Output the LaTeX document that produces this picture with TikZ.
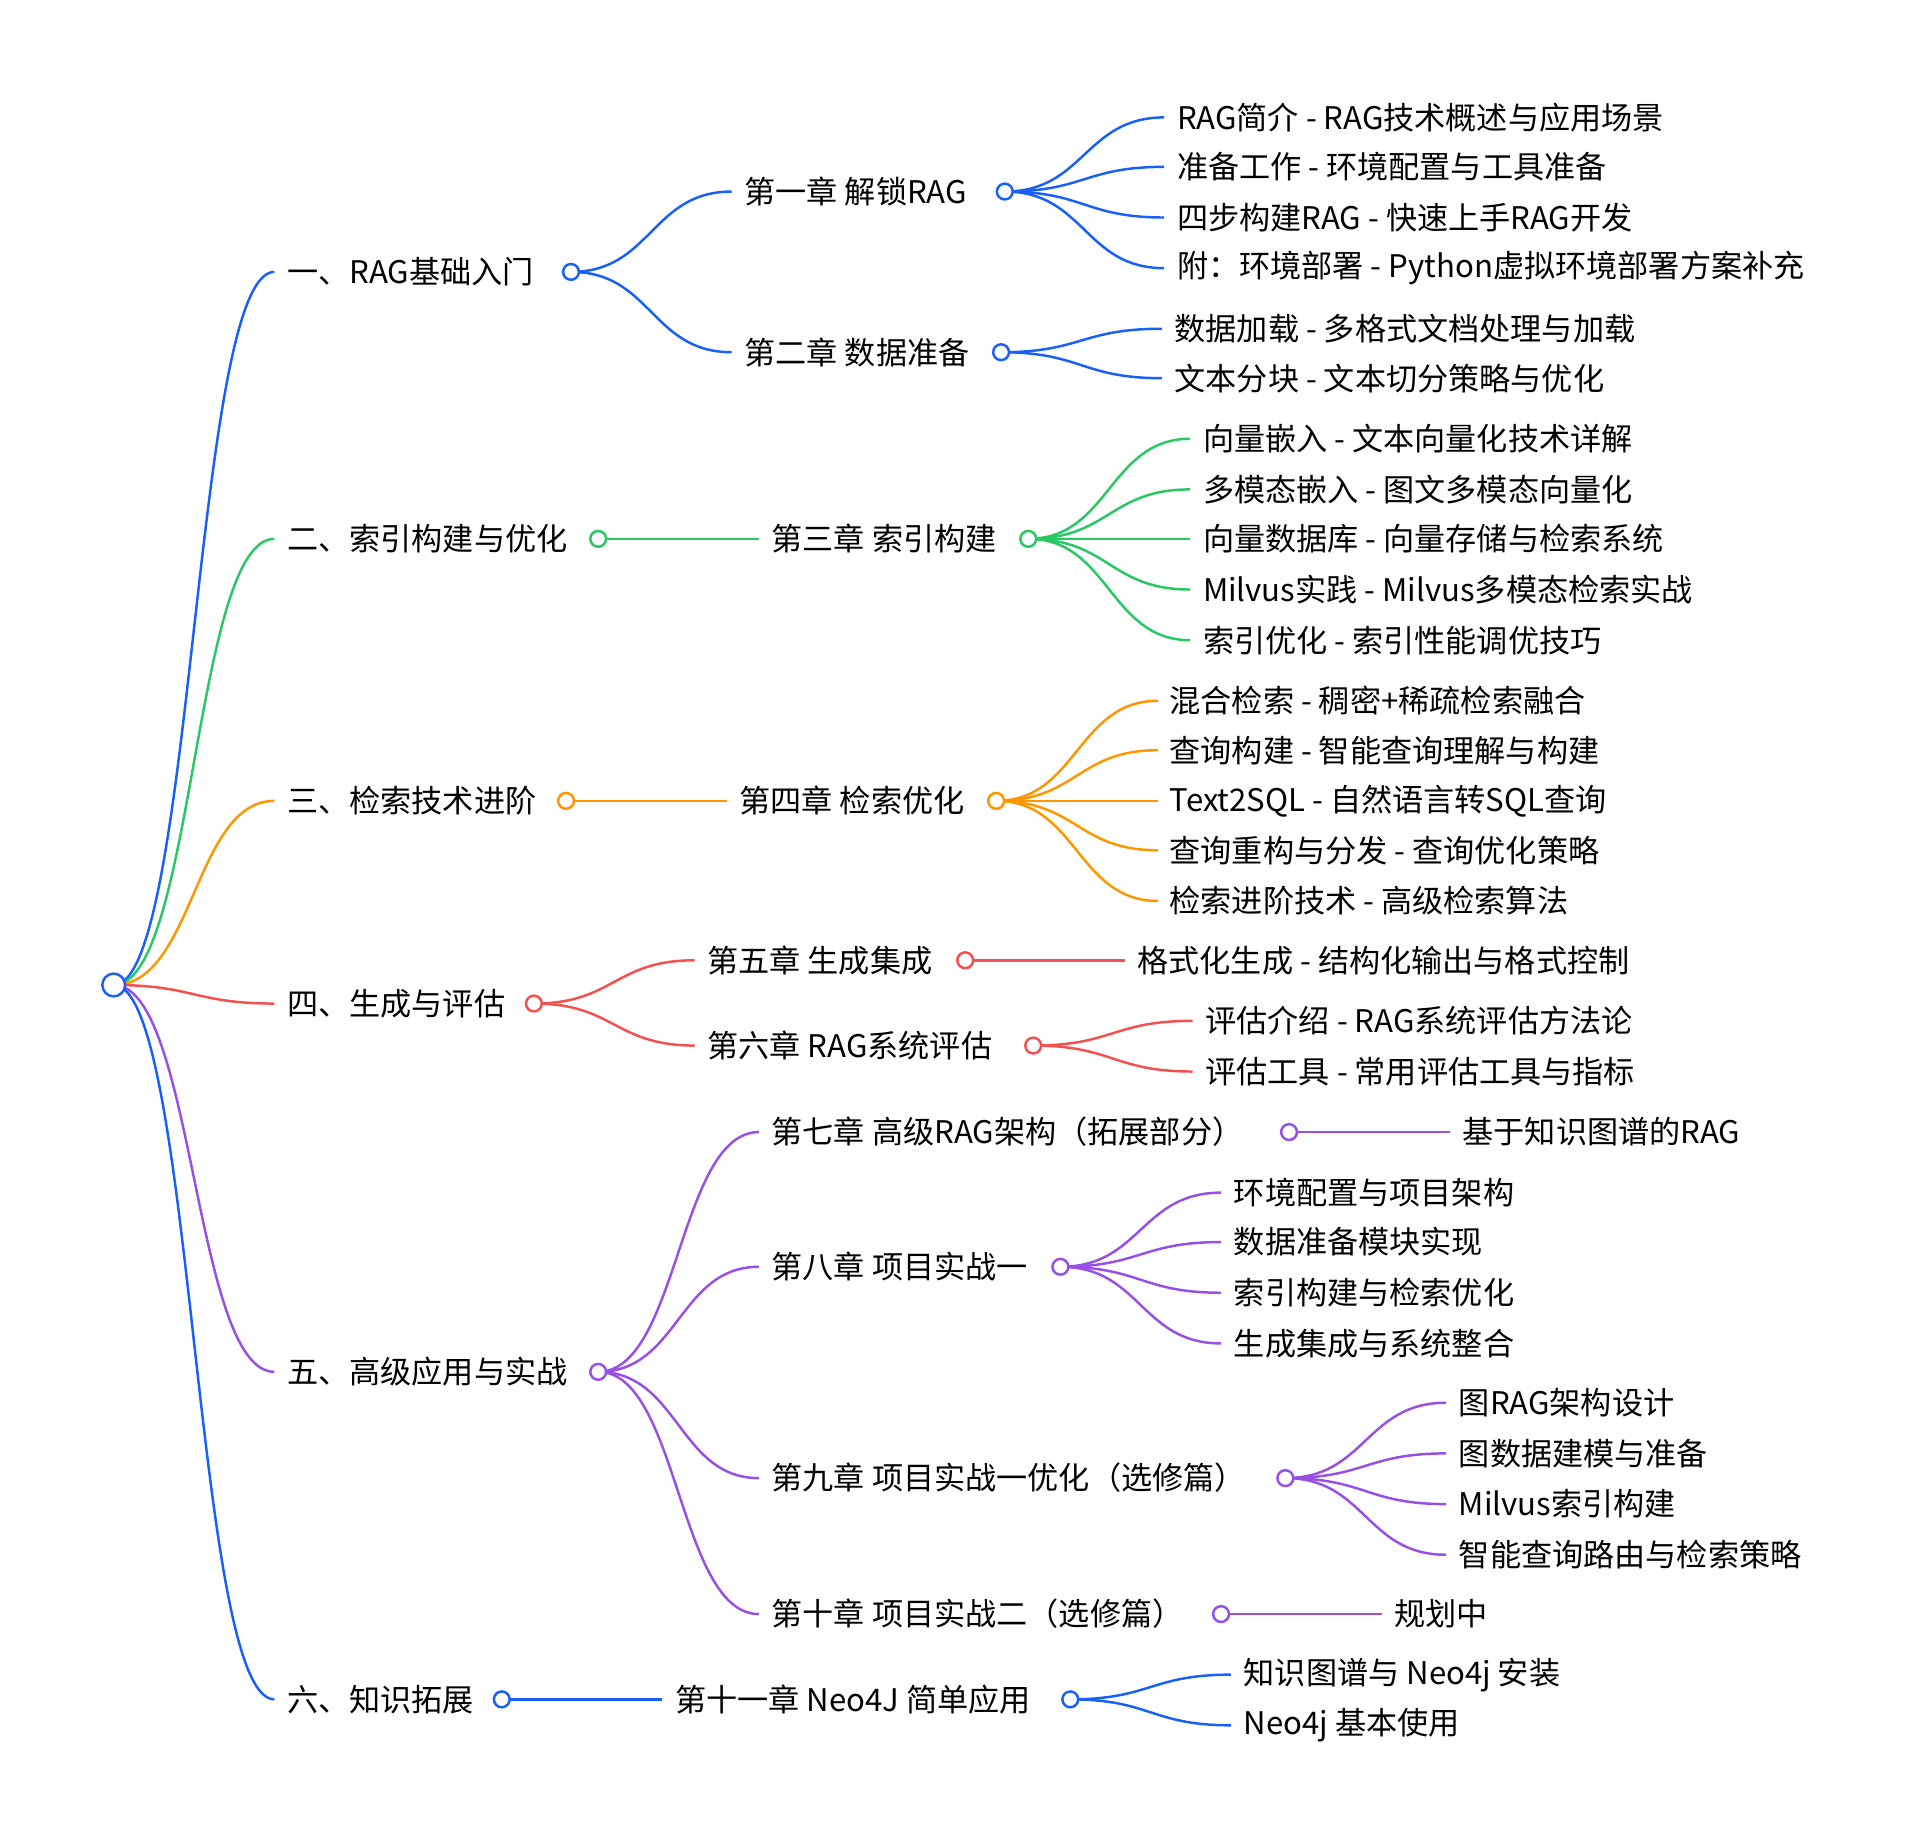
\documentclass[tikz,border=0pt]{standalone}
\usepackage{fontspec}
\setmainfont{Noto Sans CJK SC}
\definecolor{cb}{RGB}{25,95,250}
\definecolor{cg}{RGB}{40,200,100}
\definecolor{co}{RGB}{255,150,0}
\definecolor{cr}{RGB}{245,80,80}
\definecolor{cp}{RGB}{150,80,230}
\newcommand{\br}[5]{\draw[#5,line width=1pt] (#1,#2) .. controls ({(#1+#3)/2},#2) and ({(#1+#3)/2},#4) .. (#3,#4);}
\newcommand{\lbl}[3]{\node[anchor=west,inner sep=0pt,font=\fontsize{12.6pt}{14pt}\selectfont] at ({#1-3},#2) {#3};}
\newcommand{\dotc}[3]{\draw[#3,line width=1pt,fill=white] (#1,#2) circle (3.2pt);}
\begin{document}
\begin{tikzpicture}[x=0.5pt,y=-0.5pt]
\useasboundingbox (0,0) rectangle (1560,1482);
% root -> L1
\br{92}{797}{222}{220}{cb}
\br{92}{797}{222}{436}{cg}
\br{92}{797}{222}{648}{co}
\br{92}{797}{222}{812}{cr}
\br{92}{797}{222}{1110}{cp}
\br{92}{797}{222}{1375}{cb}
% L1 -> L2
\br{462}{220}{592}{155}{cb}
\br{462}{220}{592}{285}{cb}
\br{484}{436}{614}{436}{cg}
\br{458}{648}{588}{648}{co}
\br{432}{812}{562}{777}{cr}
\br{432}{812}{562}{846}{cr}
\br{484}{1110}{614}{916}{cp}
\br{484}{1110}{614}{1025}{cp}
\br{484}{1110}{614}{1196}{cp}
\br{484}{1110}{614}{1306}{cp}
\br{406}{1375}{536}{1375}{cb}
% L2 -> L3
\foreach \y in {95,135,176,217}{\br{813}{155}{942}{\y}{cb}}
\foreach \y in {266,306}{\br{810}{285}{940}{\y}{cb}}
\foreach \y in {355,396,436,477,518}{\br{832}{436}{963}{\y}{cg}}
\foreach \y in {567,607,648,688,729}{\br{806}{648}{937}{\y}{co}}
\br{781}{777}{910}{777}{cr}
\foreach \y in {826,867}{\br{836}{846}{965}{\y}{cr}}
\br{1043}{916}{1173}{916}{cp}
\foreach \y in {965,1005,1046,1087}{\br{858}{1025}{988}{\y}{cp}}
\foreach \y in {1135,1176,1217,1258}{\br{1040}{1196}{1170}{\y}{cp}}
\br{988}{1306}{1118}{1306}{cp}
\foreach \y in {1355,1396}{\br{866}{1375}{996}{\y}{cb}}
% circles
\draw[cb,line width=1pt,fill=white] (92,797) circle (4.6pt);
\dotc{462}{220}{cb}\dotc{484}{436}{cg}\dotc{458}{648}{co}\dotc{432}{812}{cr}\dotc{484}{1110}{cp}\dotc{406}{1375}{cb}
\dotc{813}{155}{cb}\dotc{810}{285}{cb}\dotc{832}{436}{cg}\dotc{806}{648}{co}\dotc{781}{777}{cr}\dotc{836}{846}{cr}
\dotc{1043}{916}{cp}\dotc{858}{1025}{cp}\dotc{1040}{1196}{cp}\dotc{988}{1306}{cp}\dotc{866}{1375}{cb}
% L1 labels
\lbl{235}{220}{一、RAG基础入门}
\lbl{235}{436}{二、索引构建与优化}
\lbl{235}{648}{三、检索技术进阶}
\lbl{235}{812}{四、生成与评估}
\lbl{235}{1110}{五、高级应用与实战}
\lbl{235}{1375}{六、知识拓展}
% L2 labels
\lbl{605}{155}{第一章 解锁RAG}
\lbl{605}{285}{第二章 数据准备}
\lbl{627}{436}{第三章 索引构建}
\lbl{601}{648}{第四章 检索优化}
\lbl{575}{777}{第五章 生成集成}
\lbl{575}{846}{第六章 RAG系统评估}
\lbl{627}{916}{第七章 高级RAG架构（拓展部分）}
\lbl{627}{1025}{第八章 项目实战一}
\lbl{627}{1196}{第九章 项目实战一优化（选修篇）}
\lbl{627}{1306}{第十章 项目实战二（选修篇）}
\lbl{549}{1375}{第十一章 Neo4J 简单应用}
% L3 labels
\lbl{955}{95}{RAG简介 - RAG技术概述与应用场景}
\lbl{955}{135}{准备工作 - 环境配置与工具准备}
\lbl{955}{176}{四步构建RAG - 快速上手RAG开发}
\lbl{955}{217}{附：环境部署 - Python虚拟环境部署方案补充}
\lbl{953}{266}{数据加载 - 多格式文档处理与加载}
\lbl{953}{306}{文本分块 - 文本切分策略与优化}
\lbl{976}{355}{向量嵌入 - 文本向量化技术详解}
\lbl{976}{396}{多模态嵌入 - 图文多模态向量化}
\lbl{976}{436}{向量数据库 - 向量存储与检索系统}
\lbl{976}{477}{Milvus实践 - Milvus多模态检索实战}
\lbl{976}{518}{索引优化 - 索引性能调优技巧}
\lbl{949}{567}{混合检索 - 稠密+稀疏检索融合}
\lbl{949}{607}{查询构建 - 智能查询理解与构建}
\lbl{949}{648}{Text2SQL - 自然语言转SQL查询}
\lbl{949}{688}{查询重构与分发 - 查询优化策略}
\lbl{949}{729}{检索进阶技术 - 高级检索算法}
\lbl{923}{777}{格式化生成 - 结构化输出与格式控制}
\lbl{978}{826}{评估介绍 - RAG系统评估方法论}
\lbl{978}{867}{评估工具 - 常用评估工具与指标}
\lbl{1186}{916}{基于知识图谱的RAG}
\lbl{1001}{965}{环境配置与项目架构}
\lbl{1001}{1005}{数据准备模块实现}
\lbl{1001}{1046}{索引构建与检索优化}
\lbl{1001}{1087}{生成集成与系统整合}
\lbl{1183}{1135}{图RAG架构设计}
\lbl{1183}{1176}{图数据建模与准备}
\lbl{1183}{1217}{Milvus索引构建}
\lbl{1183}{1258}{智能查询路由与检索策略}
\lbl{1131}{1306}{规划中}
\lbl{1009}{1355}{知识图谱与 Neo4j 安装}
\lbl{1009}{1396}{Neo4j 基本使用}
\end{tikzpicture}
\end{document}
